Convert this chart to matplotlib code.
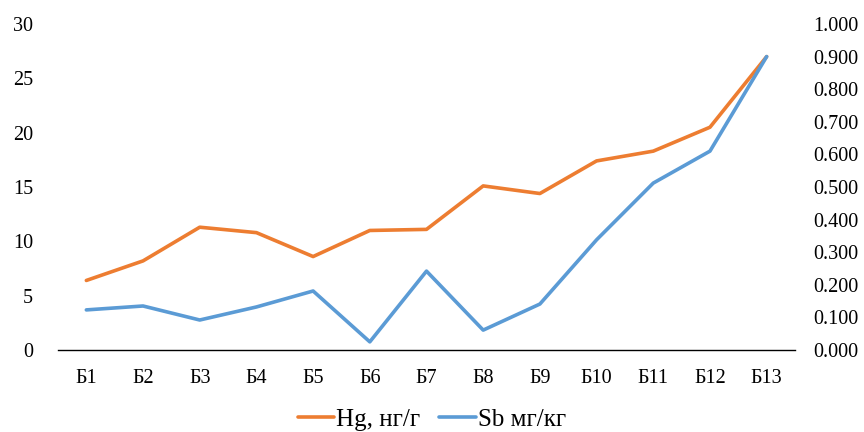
import matplotlib.pyplot as plt
from matplotlib.ticker import FormatStrFormatter

plt.rcParams['font.family'] = ['Liberation Serif', 'DejaVu Serif']

# ====== DATA =======
samples = ["Б1", "Б2", "Б3", "Б4", "Б5", "Б6", "Б7", "Б8", "Б9", "Б10", "Б11", "Б12", "Б13"]
hg = [6.4, 8.2, 11.3, 10.8, 8.6, 11.0, 11.1, 15.1, 14.4, 17.4, 18.3, 20.5, 27.0]
sb = [0.123, 0.135, 0.092, 0.132, 0.181, 0.025, 0.242, 0.061, 0.141, 0.338, 0.512, 0.610, 0.900]

hg_label = "Hg, нг/г"
sb_label = "Sb мг/кг"

ORANGE = "#ED7D31"
BLUE = "#5B9BD5"
FS = 14.5
FS_LEG = 18

# ====== PLOT =======
fig = plt.figure(figsize=(8.64, 4.32), dpi=100)
ax = fig.add_axes([58 / 864, 82 / 432, 737 / 864, 326 / 432])
ax2 = ax.twinx()

x = list(range(len(samples)))
l1, = ax.plot(x, hg, color=ORANGE, lw=2.6, solid_capstyle="round", label=hg_label)
l2, = ax2.plot(x, sb, color=BLUE, lw=2.6, solid_capstyle="round", label=sb_label)

ax.set_xlim(-0.5, len(samples) - 0.5)
ax.set_ylim(0, 30)
ax.set_yticks(range(0, 31, 5))
ax2.set_ylim(0, 1.0)
ax2.set_yticks([i / 10 for i in range(11)])
ax2.yaxis.set_major_formatter(FormatStrFormatter("%.3f"))

ax.set_xticks(x)
ax.set_xticklabels(samples)

for a in (ax, ax2):
    for side in ("top", "left", "right", "bottom"):
        a.spines[side].set_visible(False)
ax.spines["bottom"].set_visible(True)
ax.spines["bottom"].set_color("black")
ax.spines["bottom"].set_linewidth(1.0)

ax.tick_params(axis="x", length=0, pad=14, labelsize=FS)
ax.tick_params(axis="y", length=0, pad=18, labelsize=FS)
ax2.tick_params(axis="y", length=0, pad=13, labelsize=FS)

fig.legend(handles=[l1, l2], loc="center", bbox_to_anchor=(0.5, 0.028), ncol=2,
           frameon=False, fontsize=FS_LEG, handlelength=1.45, handletextpad=0.1,
           columnspacing=0.75)

fig.savefig("out.png", dpi=100)
